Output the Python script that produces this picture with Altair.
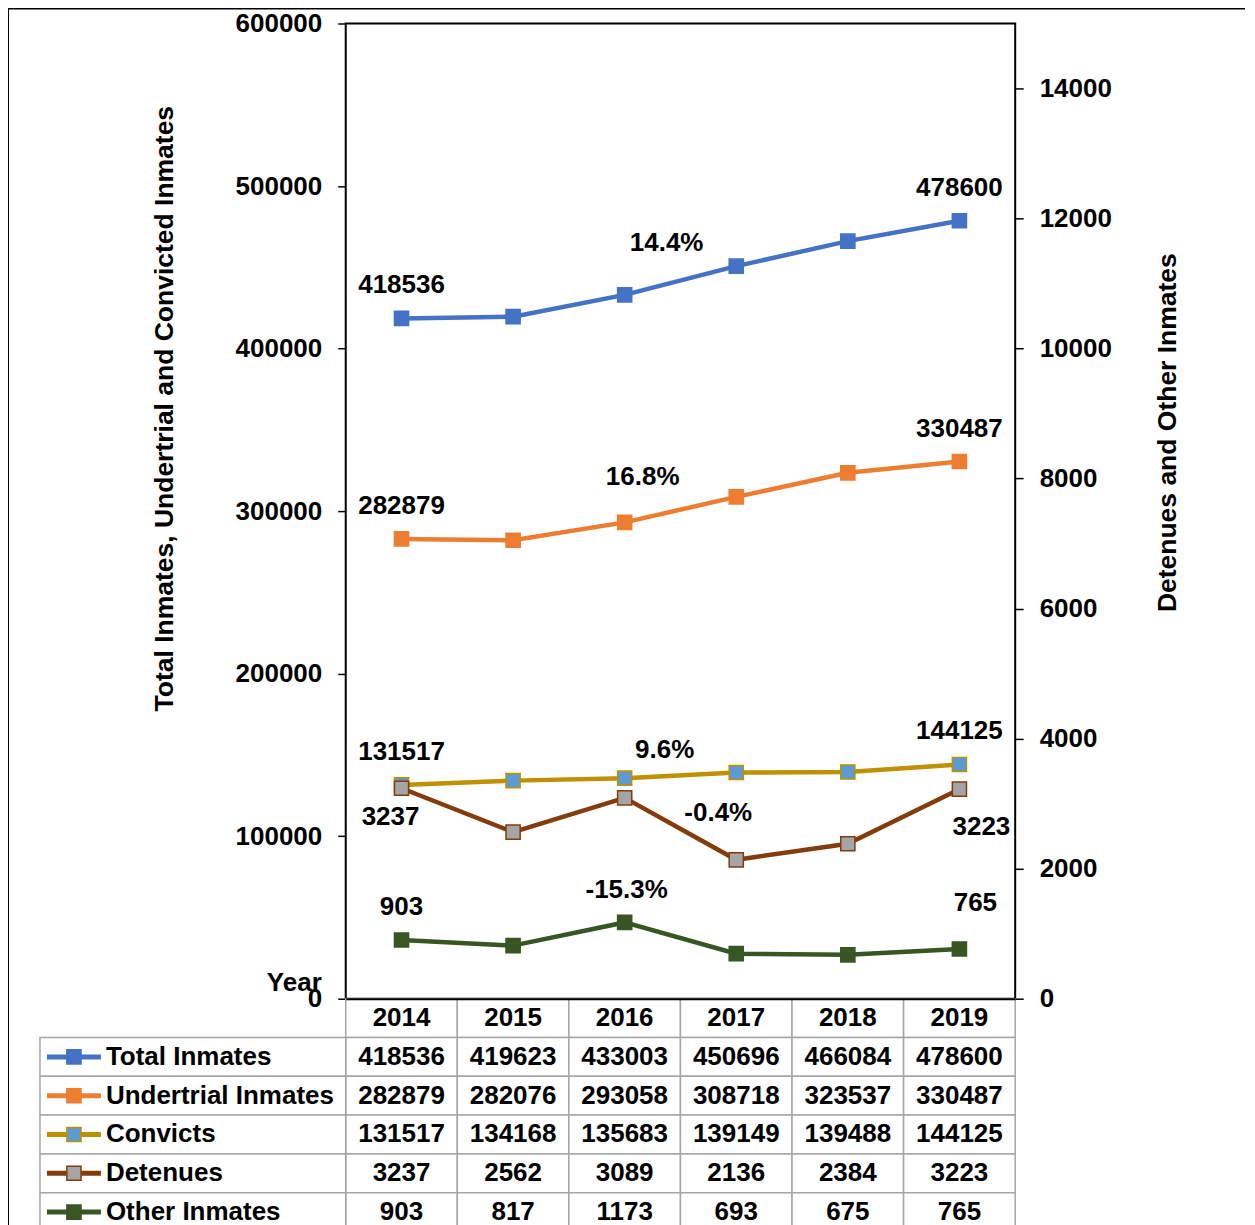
import altair as alt
import pandas as pd

# ---------------- data ----------------
years = [2014, 2015, 2016, 2017, 2018, 2019]
series_names = ["Total Inmates", "Undertrial Inmates", "Convicts", "Detenues", "Other Inmates"]
total_inmates = [418536, 419623, 433003, 450696, 466084, 478600]
undertrial_inmates = [282879, 282076, 293058, 308718, 323537, 330487]
convicts = [131517, 134168, 135683, 139149, 139488, 144125]
detenues = [3237, 2562, 3089, 2136, 2384, 3223]
other_inmates = [903, 817, 1173, 693, 675, 765]

left_series = ["Total Inmates", "Undertrial Inmates", "Convicts"]
right_series = ["Detenues", "Other Inmates"]
left_ticks = [0, 100000, 200000, 300000, 400000, 500000, 600000]
right_ticks = [0, 2000, 4000, 6000, 8000, 10000, 12000, 14000]
left_title = "Total Inmates, Undertrial and Convicted Inmates"
right_title = "Detenues and Other Inmates"
header_label = "Year"

# ---------------- styles ----------------
line_colors = ["#4472C4", "#ED7D31", "#BF9000", "#843C0C", "#375623"]
marker_fills = ["#4472C4", "#ED7D31", "#5B9BD5", "#A5A5A5", "#375623"]
FONT = "Liberation Sans"
FS = 26
TFS = 26.5

# label placement (offsets in px from the anchoring data point)
end_offsets = {
    ("Detenues", "first"): (-11, 29),
    ("Detenues", "last"): (22, 38),
    ("Other Inmates", "last"): (16, -46),
}
default_end_offset = (0, -33)
pct_anchor = {
    "Total Inmates": (2016, 42, -52),
    "Undertrial Inmates": (2016, 18, -45),
    "Convicts": (2016, 40, -28),
    "Detenues": (2017, -18, -47),
    "Other Inmates": (2016, 2, -32),
}

values = dict(zip(series_names, [total_inmates, undertrial_inmates, convicts, detenues, other_inmates]))

long_rows = []
for name in series_names:
    for yr, v in zip(years, values[name]):
        long_rows.append({"series": name, "year": yr, "value": v})
long_df = pd.DataFrame(long_rows)

lab_rows = []
for name in series_names:
    vals = values[name]
    lab_rows.append({"series": name, "kind": "first", "year": years[0], "value": vals[0], "label": str(vals[0])})
    lab_rows.append({"series": name, "kind": "last", "year": years[-1], "value": vals[-1], "label": str(vals[-1])})
    pct = (vals[-1] - vals[0]) / vals[0] * 100
    ay = pct_anchor[name][0]
    lab_rows.append({"series": name, "kind": "pct", "year": ay, "value": vals[years.index(ay)], "label": f"{pct:.1f}%"})
lab_df = pd.DataFrame(lab_rows)

stroke_scale = alt.Scale(domain=series_names, range=line_colors)
fill_scale = alt.Scale(domain=series_names, range=marker_fills)

x_enc = alt.X("year:Q", scale=alt.Scale(domain=[years[0] - 0.5, years[-1] + 0.5], nice=False, zero=False), axis=None)

y_left = alt.Y(
    "value:Q",
    scale=alt.Scale(domain=[left_ticks[0], left_ticks[-1]], nice=False),
    axis=alt.Axis(orient="left", values=left_ticks, format="d", title=left_title,
                  titleAngle=270, titleX=-181, titleY=385, titleAlign="center", titleBaseline="middle"),
)
y_right = alt.Y(
    "value:Q",
    scale=alt.Scale(domain=[0, 15000], nice=False),
    axis=alt.Axis(orient="right", values=right_ticks, format="d", title=right_title,
                  titleAngle=270, titleX=152, titleY=409, titleAlign="center", titleBaseline="middle"),
)


def label_layer(name, kind, dx, dy, y_enc):
    return alt.Chart(lab_df).transform_filter(
        (alt.datum.series == name) & (alt.datum.kind == kind)
    ).mark_text(font=FONT, fontSize=FS, fontWeight="bold", color="black", dx=dx, dy=dy).encode(
        x=x_enc, y=y_enc, text="label:N"
    )


def side_layer(names, y_enc):
    df = long_df[long_df["series"].isin(names)]
    base = alt.Chart(df).encode(x=x_enc, y=y_enc)
    line = base.mark_line(strokeWidth=4.5).encode(
        stroke=alt.Stroke("series:N", scale=stroke_scale, legend=None)
    )
    pts = base.mark_square(size=200, strokeWidth=1.5, opacity=1).encode(
        fill=alt.Fill("series:N", scale=fill_scale, legend=None),
        stroke=alt.Stroke("series:N", scale=stroke_scale, legend=None),
    )
    labs = []
    for name in names:
        for kind in ("first", "last"):
            dx, dy = end_offsets.get((name, kind), default_end_offset)
            labs.append(label_layer(name, kind, dx, dy, y_enc))
        _, dx, dy = pct_anchor[name]
        labs.append(label_layer(name, "pct", dx, dy, y_enc))
    return alt.layer(line, pts, *labs)


one = pd.DataFrame({"k": [0]})
border_top = alt.Chart(one).mark_rule(color="black", strokeWidth=2).encode(
    x=alt.value(-338), x2=alt.value(900), y=alt.value(-15)
)
border_left = alt.Chart(one).mark_rule(color="black", strokeWidth=2).encode(
    x=alt.value(-338), y=alt.value(-15), y2=alt.value(1209)
)

main = alt.layer(
    side_layer(left_series, y_left),
    side_layer(right_series, y_right),
    border_top,
    border_left,
).resolve_scale(y="independent").properties(
    width=670, height=976, view=alt.ViewBackground(stroke="black", strokeWidth=2)
)

# ---------------- data table ----------------
row_order = [header_label] + series_names
table_rows = [{"row": header_label, "year": yr, "text": str(yr)} for yr in years]
for name in series_names:
    for yr, v in zip(years, values[name]):
        table_rows.append({"row": name, "year": yr, "text": str(v)})
table_df = pd.DataFrame(table_rows)

ty = alt.Y("row:N", scale=alt.Scale(type="band", domain=row_order, paddingInner=0, paddingOuter=0), axis=None)
tx = alt.X(
    "year:O",
    scale=alt.Scale(type="band", paddingInner=0, paddingOuter=0),
    axis=alt.Axis(orient="top", labels=False, ticks=False, title=None, domain=True,
                  domainColor="black", domainWidth=2, zindex=1),
)
tbase = alt.Chart(table_df).encode(x=tx, y=ty)
cells = tbase.mark_rect(fill="white", stroke="#A6A6A6", strokeWidth=1.5)
cell_text = tbase.mark_text(font=FONT, fontSize=FS, fontWeight="bold", color="black").encode(text="text:N")

leg_df = pd.DataFrame({"row": series_names})
lbase = alt.Chart(leg_df)
leg_cells = lbase.mark_rect(fill="white", stroke="#A6A6A6", strokeWidth=1.5).encode(
    x=alt.value(-306), x2=alt.value(0), y=ty
)
leg_line = lbase.mark_rule(strokeWidth=5).encode(
    x=alt.value(-299), x2=alt.value(-245), y=ty,
    stroke=alt.Stroke("row:N", scale=stroke_scale, legend=None),
)
leg_sq = lbase.mark_square(size=200, strokeWidth=1.5, opacity=1).encode(
    x=alt.value(-272), y=ty,
    fill=alt.Fill("row:N", scale=fill_scale, legend=None),
    stroke=alt.Stroke("row:N", scale=stroke_scale, legend=None),
)
leg_text = lbase.mark_text(font=FONT, fontSize=FS, fontWeight="bold", color="black", align="left").encode(
    x=alt.value(-240), y=ty, text="row:N"
)
year_lab = alt.Chart(pd.DataFrame({"t": [header_label]})).mark_text(
    font=FONT, fontSize=FS, fontWeight="bold", color="black", align="right"
).encode(x=alt.value(-24), y=alt.value(-16), text="t:N")

table = alt.layer(cells, cell_text, leg_cells, leg_line, leg_sq, leg_text, year_lab).properties(
    width=670, height=233
)

chart = alt.vconcat(main, table, spacing=0, bounds="flush").properties(
    padding={"left": -2, "top": -2, "right": 0, "bottom": 0}
).configure_axis(
    labelFont=FONT, labelFontSize=FS, labelFontWeight="bold", labelColor="black",
    titleFont=FONT, titleFontSize=TFS, titleFontWeight="bold", titleColor="black",
    tickColor="black", tickSize=8, tickWidth=1.5, domain=False, grid=False, labelPadding=16,
).configure_view(strokeWidth=0)

chart.save("out.html", embed_options={"renderer": "svg", "actions": False})
